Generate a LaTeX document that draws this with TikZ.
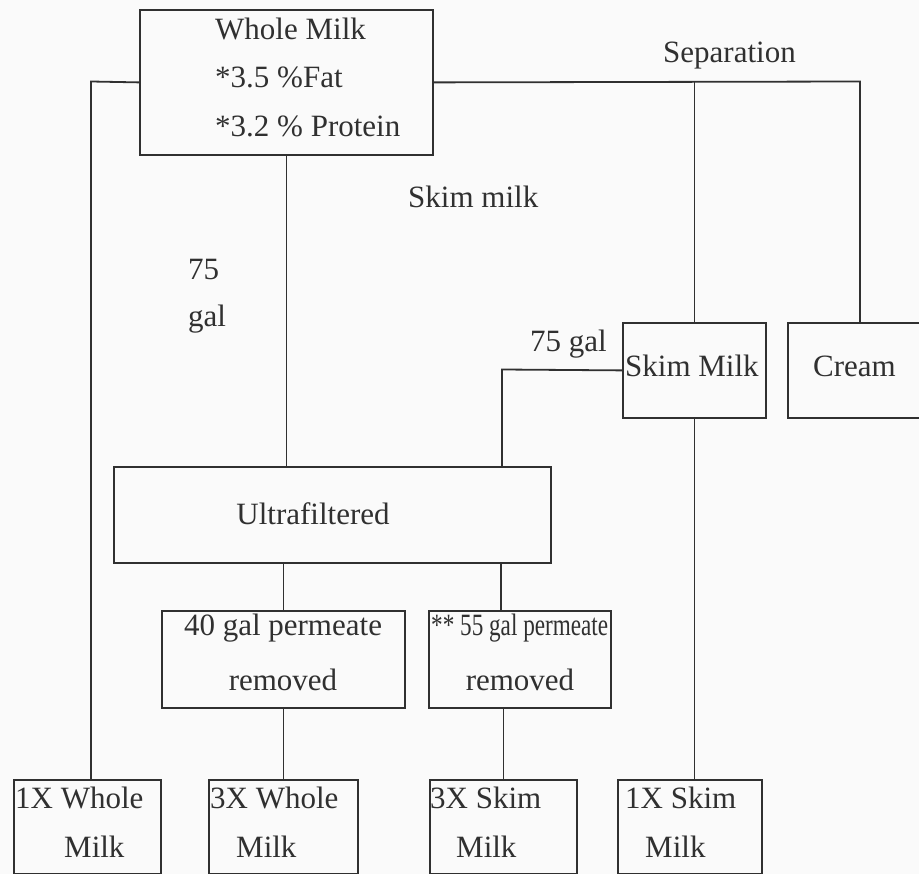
\documentclass[tikz,border=0pt]{standalone}
\usepackage{fontspec}
\setmainfont{Liberation Serif}
\definecolor{ink}{HTML}{303030}
\definecolor{paper}{HTML}{FAFAFA}
\begin{document}
\begin{tikzpicture}[x=1pt,y=-1pt,
  box/.style={draw=ink, line width=1.8pt, rectangle, inner sep=0pt, anchor=north west},
  txt/.style={inner sep=0pt, text=ink, font=\fontsize{31}{48}\selectfont},
  conn/.style={draw=ink, line width=1.8pt}]
\useasboundingbox (0,0) rectangle (919,874);
\fill[paper] (0,0) rectangle (919,874);

% boxes
\node[box, minimum width=293pt, minimum height=145pt] (wm) at (139,9) {};
\node[box, minimum width=143pt, minimum height=95pt] (sm) at (622,322) {};
\node[box, minimum width=143pt, minimum height=95pt] (cr) at (787,322) {};
\node[box, minimum width=437pt, minimum height=96pt] (uf) at (113,466) {};
\node[box, minimum width=243pt, minimum height=97pt] (p40) at (161,610) {};
\node[box, minimum width=182pt, minimum height=97pt] (p55) at (428,610) {};
\node[box, minimum width=147pt, minimum height=94pt] (b1w) at (13,779) {};
\node[box, minimum width=149pt, minimum height=94pt] (b3w) at (208,779) {};
\node[box, minimum width=147pt, minimum height=94pt] (b3s) at (429,779) {};
\node[box, minimum width=144pt, minimum height=94pt] (b1s) at (617,779) {};

% texts
\node[txt, anchor=base west] (t1) at (215,40) {Whole Milk};
\node[txt, anchor=base west] (t2) at (215,88) {*3.5 \%Fat};
\node[txt, anchor=base west] (t3) at (215,137) {*3.2 \% Protein};
\node[txt, anchor=base west] (tsep) at (663,63) {Separation};
\node[txt, anchor=base west] (tskm) at (408,208) {Skim milk};
\node[txt, anchor=base west] (t75a) at (188,280) {75};
\node[txt, anchor=base west] (t75b) at (188,327) {gal};
\node[txt, anchor=base west] (t75g) at (530,352) {75 gal};
\node[txt, anchor=base west] (tsm) at (625,377) {Skim Milk};
\node[txt, anchor=base west] (tcr) at (813,377) {Cream};
\node[txt, anchor=base] (tuf) at (313,525) {Ultrafiltered};
\node[txt, anchor=base] (t40a) at (283,635) {40 gal permeate};
\node[txt, anchor=base] (t40b) at (283,690) {removed};
\node[txt, anchor=base west] (t55a) at (431,635) {\resizebox{177pt}{\height}{** 55 gal permeate}};
\node[txt, anchor=base] (t55b) at (520,690) {removed};
\node[txt, anchor=base west] (tb1a) at (15,808) {1X Whole};
\node[txt, anchor=base west] (tb1b) at (64,857) {Milk};
\node[txt, anchor=base west] (tb2a) at (210,808) {3X Whole};
\node[txt, anchor=base west] (tb2b) at (236,857) {Milk};
\node[txt, anchor=base west] (tb3a) at (430,808) {3X Skim};
\node[txt, anchor=base west] (tb3b) at (456,857) {Milk};
\node[txt, anchor=base west] (tb4a) at (625,808) {1X Skim};
\node[txt, anchor=base west] (tb4b) at (645,857) {Milk};

% junction coordinates
\coordinate (cl) at (91,81.5);
\coordinate (cj) at (860,81.5);
\coordinate (c2) at (502,369.5);
\coordinate (c3) at (501,562);

% connectors
\draw[conn] (wm.west) -- (cl) -- (cl |- b1w.north);
\draw[conn] (wm.east) -- (cj) -- (cj |- cr.north);
\draw[conn] (sm.north |- wm.east) -- (sm.north);
\draw[conn] (wm.south) -- (wm.south |- uf.north);
\draw[conn] (sm.west) -- (c2) -- (c2 |- uf.north);
\draw[conn] (p40.north |- uf.south) -- (p40.north);
\draw[conn] (c3) -- (c3 |- p55.north);
\draw[conn] (p40.south) -- (b3w.north);
\draw[conn] (b3s.north |- p55.south) -- (b3s.north);
\draw[conn] (sm.south) -- (sm.south |- b1s.north);
\end{tikzpicture}
\end{document}
